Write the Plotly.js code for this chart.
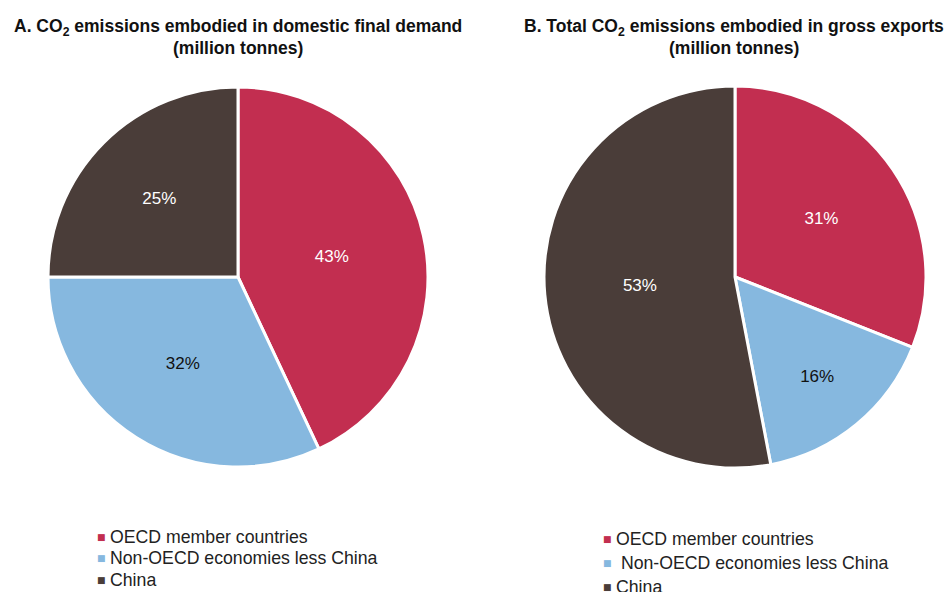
<!DOCTYPE html>
<html><head><meta charset="utf-8">
<script src="https://cdn.plot.ly/plotly-3.0.1.min.js"></script>
<style>html,body{margin:0;padding:0;background:#fff}#chart{width:947px;height:592px}</style>
</head><body><div id="chart"></div>
<script>
const categories = ["OECD member countries", "Non-OECD economies less China", "China"];
const legendLabelsB = ["OECD member countries", " Non-OECD economies less China", "China"];
const valuesA = [43, 32, 25];
const valuesB = [31, 16, 53];
const titleA = ["<b>A. CO<sub>2</sub> emissions embodied in domestic final demand</b>", "<b>(million tonnes)</b>"];
const titleB = ["<b>B. Total CO<sub>2</sub> emissions embodied in gross exports</b>", "<b>(million tonnes)</b>"];

const colors = ["#C22E50", "#86B8DF", "#4A3D39"];
const textColors = ["#ffffff", "#111111", "#ffffff"];
const W = 947, H = 592;
const font = "Liberation Sans, Arial, sans-serif";

function pie(values, dom) {
  return {
    type: "pie", values: values, labels: categories, sort: false, direction: "clockwise", rotation: 0,
    marker: {colors: colors, line: {color: "#ffffff", width: 3}},
    texttemplate: "%{value}%", textinfo: "text", textposition: "inside", insidetextorientation: "horizontal",
    textfont: {family: font, size: 17, color: textColors},
    hoverinfo: "none", showlegend: false, domain: dom
  };
}
const data = [
  pie(valuesA, {x: [48 / W, 428 / W], y: [1 - 467 / H, 1 - 87 / H]}),
  pie(valuesB, {x: [544 / W, 926 / W], y: [1 - 468 / H, 1 - 86 / H]})
];

const annotations = [];
function title(lines, cx, ys) {
  lines.forEach((t, i) => annotations.push({text: t, x: cx / W, y: 1 - ys[i] / H, xref: "paper", yref: "paper",
    showarrow: false, font: {family: font, size: 17.5, color: "#111"}, xanchor: "center", yanchor: "middle"}));
}
title(titleA, 238, [28, 48]);
title(titleB, 734, [28, 48]);
function legend(labels, mx, tx, ys) {
  labels.forEach((lab, i) => {
    annotations.push({text: "■", x: mx / W, y: 1 - ys[i] / H, xref: "paper", yref: "paper", showarrow: false,
      font: {family: "DejaVu Sans", size: 9, color: colors[i]}, xanchor: "center", yanchor: "middle"});
    annotations.push({text: lab, x: tx / W, y: 1 - ys[i] / H, xref: "paper", yref: "paper", showarrow: false,
      font: {family: font, size: 17.7, color: "#222"}, xanchor: "left", yanchor: "middle"});
  });
}
legend(categories, 101, 108, [537, 558, 580]);
legend(legendLabelsB, 607, 614, [539, 563, 587]);

const layout = {
  width: W, height: H, margin: {l: 0, r: 0, t: 0, b: 0},
  paper_bgcolor: "#fff", showlegend: false, annotations: annotations,
  font: {family: font}
};
Plotly.newPlot("chart", data, layout, {displayModeBar: false, staticPlot: true});
</script></body></html>
